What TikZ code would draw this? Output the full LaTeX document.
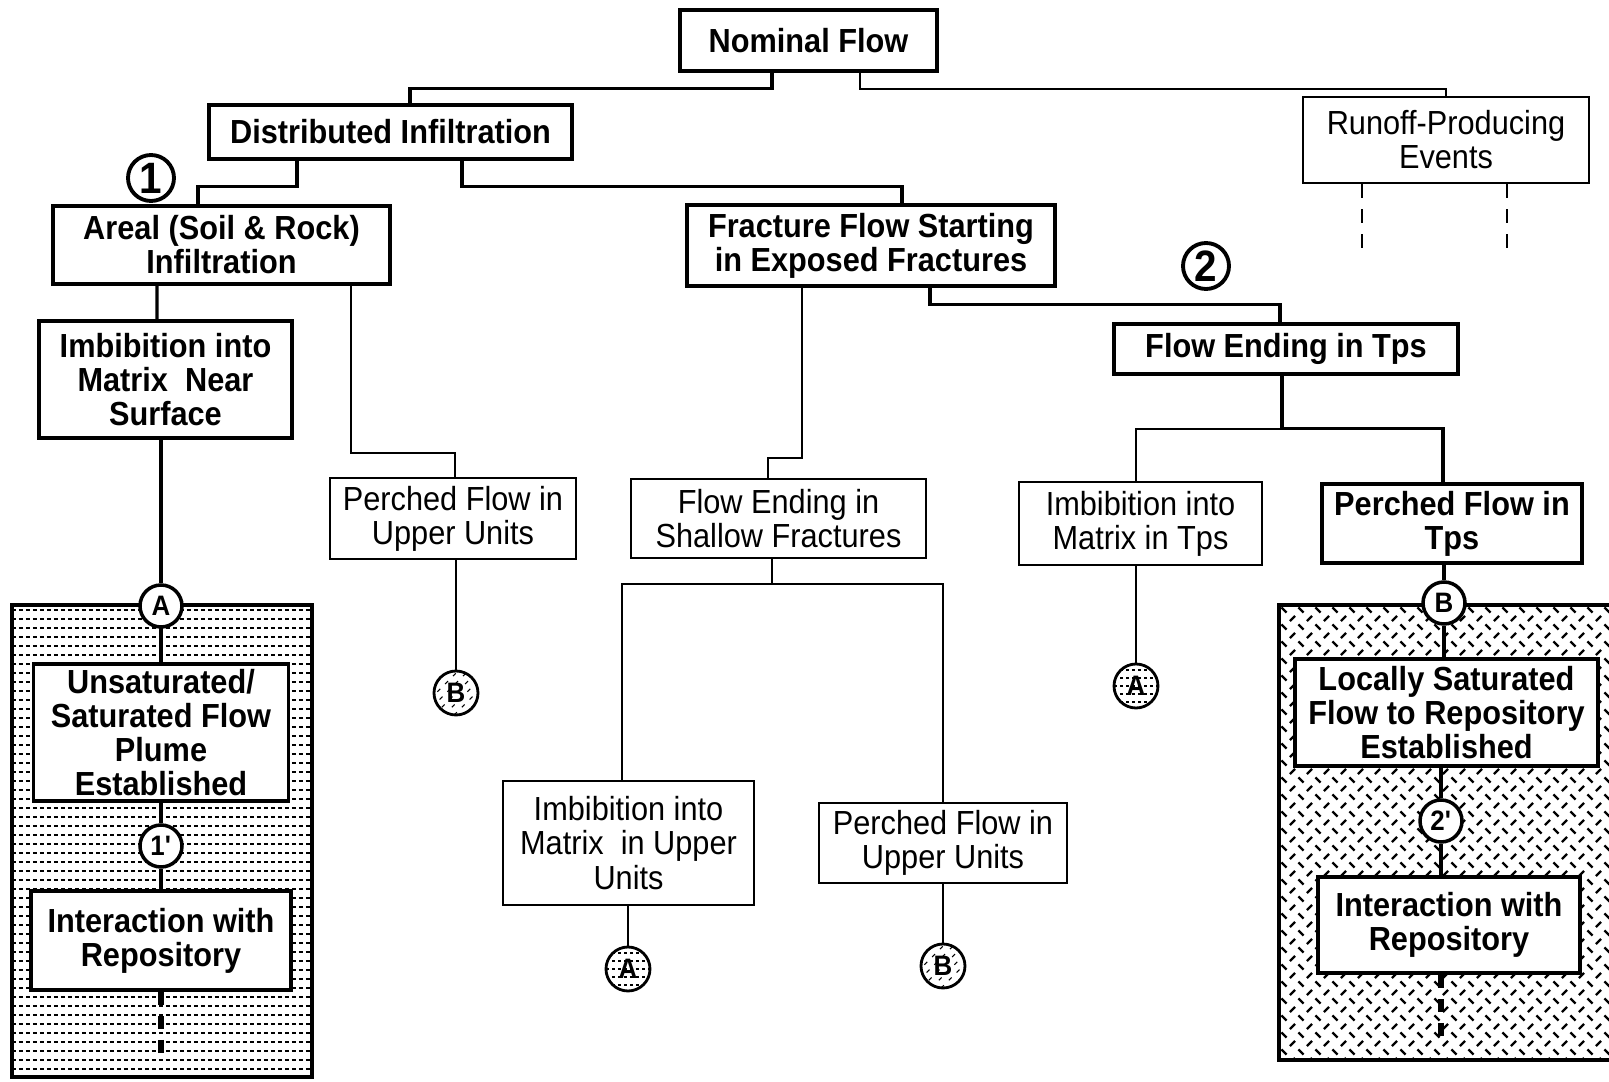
\documentclass[tikz,border=0pt]{standalone}
\usepackage{fontspec}
\setmainfont[FakeStretch=0.92]{Liberation Sans}
\usepackage{tikz}
\usetikzlibrary{calc}
\tikzset{
  wh/.style 2 args={minimum width=#1mm,minimum height=#2mm},
  bbox/.style={draw,line width=1pt,fill=white,align=center,inner sep=0pt,font=\fontsize{9.5}{9.7}\selectfont\bfseries},
  tbox/.style={draw,line width=0.6pt,fill=white,align=center,inner sep=0pt,font=\fontsize{9.5}{9.7}\selectfont},
  ltr/.style={circle,draw,line width=1pt,fill=white,minimum size=4.2mm,inner sep=0pt,font=\fontsize{8}{8}\selectfont\bfseries},
  refc/.style={circle,draw,line width=0.8pt,fill=white,minimum size=4.4mm,inner sep=0pt,font=\fontsize{8}{8}\selectfont\bfseries},
  refA/.style={refc,path picture={\foreach \k in {-2,...,2}
      \draw[line width=0.3pt,dash pattern=on 0.3mm off 0.3mm] ([yshift=\k*0.8mm]path picture bounding box.west) -- ([yshift=\k*0.8mm]path picture bounding box.east);}},
  refB/.style={refc,path picture={\foreach \k in {-4,...,4}
      \draw[line width=0.3pt,dash pattern=on 0.4mm off 0.7mm] ([xshift=\k*1mm]path picture bounding box.south west) -- ++(4.4mm,4.4mm);}},
  num/.style={circle,draw,line width=1.1pt,minimum size=4.6mm,inner sep=0pt,font=\fontsize{12.5}{12.5}\selectfont\bfseries},
  ln/.style={line width=0.9pt},
  lnt/.style={line width=0.6pt},
  dsh/.style={line width=1.5pt,dash pattern=on 1.3mm off 1.1mm},
  dsht/.style={line width=0.7pt,dash pattern=on 1.4mm off 1.1mm}
}
\begin{document}
\begin{tikzpicture}[x=0.1mm,y=-0.1mm]
\useasboundingbox (0,0) rectangle (1609,1082);
% shaded regions
\begin{scope}
\clip (12,605) rectangle (312,1077);
\foreach \r in {0,...,52}
  \draw[line width=0.75pt,dash pattern=on 0.4mm off 0.3mm] (12,{610+\r*9}) -- (312,{610+\r*9});
\end{scope}
\draw[line width=1pt] (12,605) rectangle (312,1077);
\begin{scope}
\clip (1279,605) rectangle (1609,1060);
\foreach \j in {0,...,27}
  \foreach \i in {0,...,19} {
    \draw[line width=0.65pt] ({1284+\i*17-2.6},{610+\j*17-2.6}) -- ++(5.2,5.2);
    \draw[line width=0.65pt] ({1292.5+\i*17-2.6},{618.5+\j*17+2.6}) -- ++(5.2,-5.2);
  }
\end{scope}
\draw[line width=1pt] (1612,605) -- (1279,605) -- (1279,1060) -- (1612,1060);
% boxes
\node[bbox,wh={25.7}{6.1}] (nom) at (808.5,40.5) {Nominal Flow};
\node[bbox,wh={36.3}{5.4}] (dist) at (390.5,132) {Distributed Infiltration};
\node[tbox,wh={28.6}{8.6}] (run) at (1446,140) {Runoff-Producing\\Events};
\node[bbox,wh={33.7}{7.8}] (areal) at (221.5,245) {Areal (Soil \& Rock)\\Infiltration};
\node[bbox,wh={36.8}{8.1}] (frac) at (871,245.5) {Fracture Flow Starting\\in Exposed Fractures};
\node[bbox,wh={34.4}{5.0}] (tps) at (1286,349) {Flow Ending in Tps};
\node[bbox,wh={25.3}{11.7}] (imbns) at (165.5,379.5) {Imbibition into\\Matrix~ Near\\Surface};
\node[tbox,wh={24.6}{8.1}] (perup) at (453,518.5) {Perched Flow in\\Upper Units};
\node[tbox,wh={29.5}{7.9}] (shal) at (778.5,518.5) {Flow Ending in\\Shallow Fractures};
\node[tbox,wh={24.3}{8.3}] (imbtps) at (1140.5,523.5) {Imbibition into\\Matrix in Tps};
\node[bbox,wh={26.0}{7.9}] (pertps) at (1452,523.5) {Perched Flow in\\Tps};
\node[bbox,wh={25.5}{13.7}] (plume) at (161,732.5) {Unsaturated/\\Saturated Flow\\Plume\\Established};
\node[bbox,wh={26.0}{9.9}] (repA) at (161,940.5) {Interaction with\\Repository};
\node[bbox,wh={30.3}{10.7}] (locsat) at (1446.5,712.5) {Locally Saturated\\Flow to Repository\\Established};
\node[bbox,wh={26.2}{9.6}] (repB) at (1449,925) {Interaction with\\Repository};
\node[tbox,wh={25.1}{12.4}] (imbup) at (628.5,843) {Imbibition into\\Matrix~ in Upper\\Units};
\node[tbox,wh={24.8}{8.0}] (perup2) at (943,843) {Perched Flow in\\Upper Units};
% circles
\node[ltr] (cA) at (161,606) {A};
\node[ltr] (c1p) at (161,846) {1\textquotesingle};
\node[ltr] (cB) at (1444,603) {B};
\node[ltr] (c2p) at (1441,821) {2\textquotesingle};
\node[refB] (rB1) at (456,693) {B};
\node[refA] (rA1) at (628,969) {A};
\node[refB] (rB2) at (943,966) {B};
\node[refA] (rA2) at (1136,686) {A};
\node[num] (n1) at (151,178) {1};
\node[num] (n2) at (1206,266) {2};
% connectors
\draw[ln] ([xshift=-3.65mm]nom.south) -- ++(0,16) -| ([xshift=1.95mm]dist.north);
\draw[lnt] ([xshift=5.15mm]nom.south) -- ++(0,16) -| (run.north);
\draw[ln] ([xshift=-9.35mm]dist.south) -- ++(0,26) -| ([xshift=-2.35mm]areal.north);
\draw[ln] ([xshift=7.15mm]dist.south) -- ++(0,26) -| ([xshift=3.1mm]frac.north);
\draw[ln] ([xshift=-6.45mm]areal.south) -- ([xshift=-0.85mm]imbns.north);
\draw[lnt] ([xshift=12.95mm]areal.south) -- ++(0,167) -| ([xshift=0.2mm]perup.north);
\draw[ln] (imbns.south -| cA.north) -- (cA.north);
\draw[ln] (cA.south) -- (plume.north -| cA.south);
\draw[ln] (plume.south -| c1p.north) -- (c1p.north);
\draw[ln] (c1p.south) -- (repA.north -| c1p.south);
\draw[dsh] (repA.south -| c1p) -- ++(0,70);
\draw[lnt] (perup.south -| rB1.north) -- (rB1.north);
\draw[lnt] ([xshift=-6.9mm]frac.south) -- ++(0,170) -| ([xshift=-1.05mm]shal.north);
\draw[ln] ([xshift=5.9mm]frac.south) -- ++(0,17) -| ([xshift=-0.6mm]tps.north);
\draw[ln] ([xshift=-0.4mm]tps.south) -- ++(0,53) coordinate (tpsj);
\draw[lnt] (tpsj) -| ([xshift=-0.45mm]imbtps.north);
\draw[ln] (tpsj) -| ([xshift=-0.9mm]pertps.north);
\draw[lnt] ([xshift=-0.65mm]shal.south) -- ++(0,25) coordinate (shj);
\draw[lnt] (shj) -| ([xshift=-0.65mm]imbup.north);
\draw[lnt] (shj) -| (perup2.north);
\draw[lnt] (imbup.south -| rA1.north) -- (rA1.north);
\draw[lnt] (perup2.south -| rB2.north) -- (rB2.north);
\draw[lnt] (imbtps.south -| rA2.north) -- (rA2.north);
\draw[ln] (pertps.south -| cB.north) -- (cB.north);
\draw[ln] (cB.south) -- (locsat.north -| cB.south);
\draw[ln] (locsat.south -| c2p.north) -- (c2p.north);
\draw[ln] (c2p.south) -- (repB.north -| c2p.south);
\draw[dsh] (repB.south -| c2p) -- ++(0,70);
\draw[dsht] ([xshift=-8.4mm]run.south) -- ++(0,68);
\draw[dsht] ([xshift=6.1mm]run.south) -- ++(0,68);
\end{tikzpicture}
\end{document}
